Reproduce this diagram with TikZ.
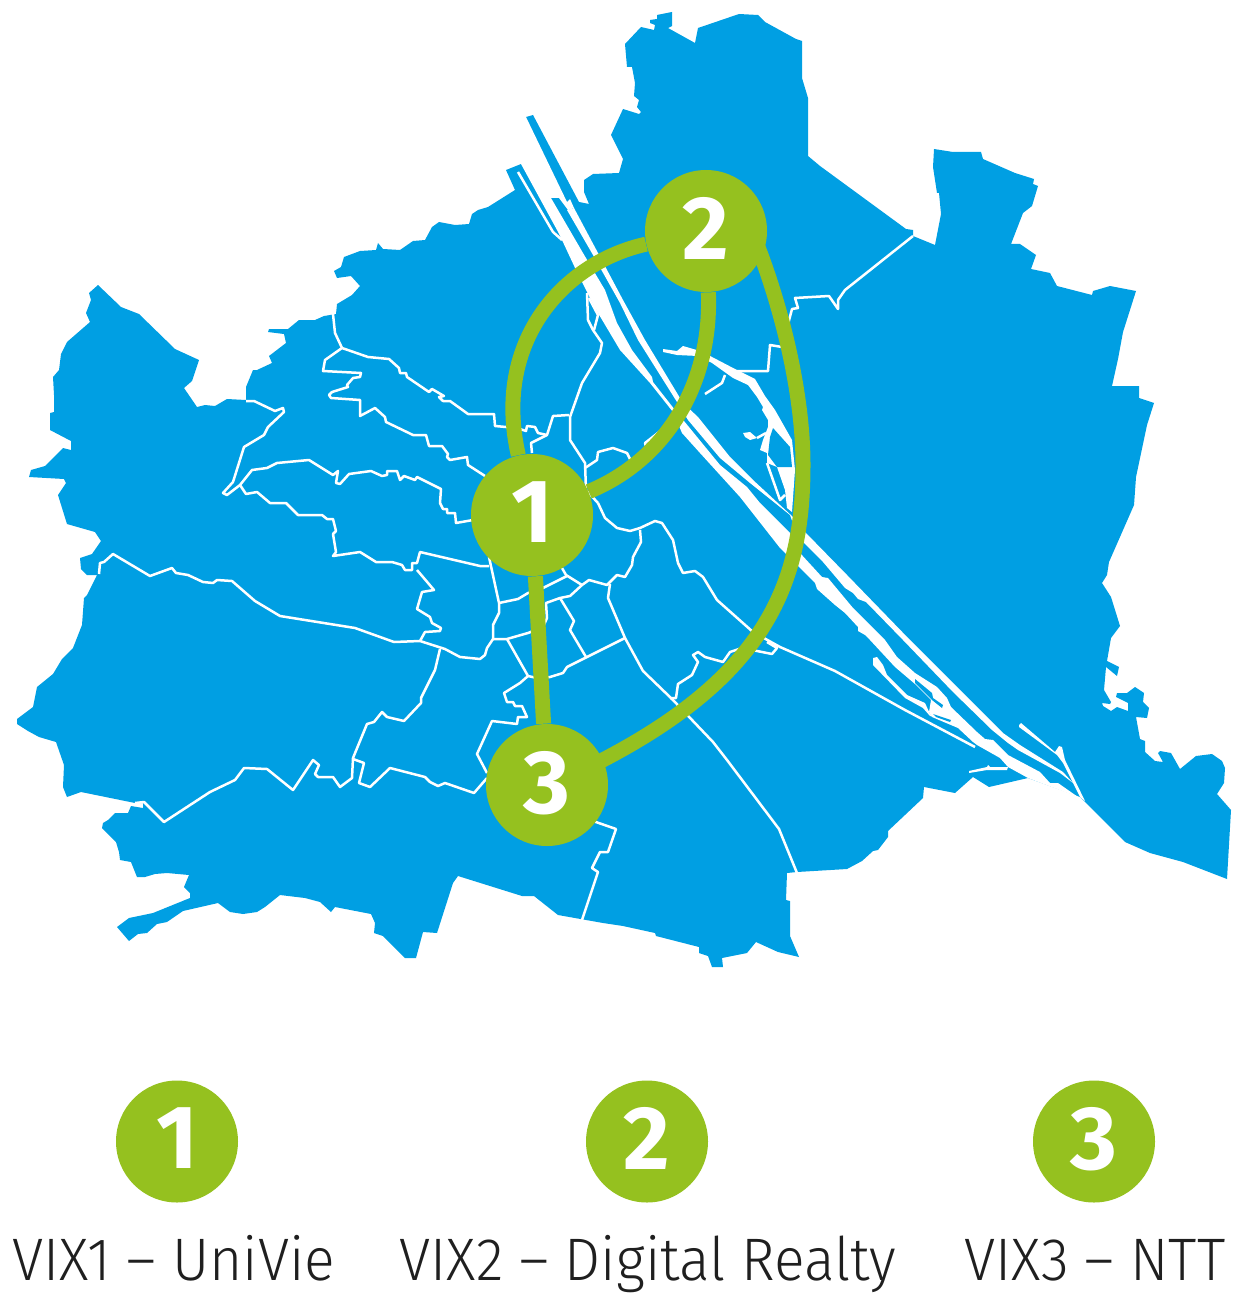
\documentclass[tikz,border=0pt]{standalone}
\usepackage{fontspec}
\setmainfont{Fira Sans}[UprightFont=* Light,BoldFont=* Bold]
\newfontfamily\capfont{Fira Sans Light}[FakeStretch=0.95]
\definecolor{mapblue}{HTML}{009FE3}
\definecolor{vixgreen}{HTML}{95C11F}
\tikzset{
  district/.style={fill=mapblue,draw=none},
  water/.style={fill=white,draw=none},
  border/.style={white,line width=1.25pt,line join=round},
  link/.style={vixgreen,line width=7.5pt},
  site/.style={circle,fill=vixgreen,text=white,minimum size=61pt,inner sep=0pt,text depth=3pt,font=\fontsize{45}{45}\bfseries},
  caption/.style={font=\fontsize{30}{30}\capfont,text=black!88,anchor=base,inner sep=0pt}
}
\newcommand\boundary[1]{\draw [border] plot coordinates {#1};}
\begin{document}
\begin{tikzpicture}[x=0.5pt,y=-0.5pt]
  \useasboundingbox (0,0) rectangle (1250,1305);
  \fill [district] plot coordinates {
    (98,285) (121,307) (139,314) (175,349) (199,360) (192,381) (184,388) (197,407) (205,405) (215,406)
    (227,399) (246,400) (246,387) (253,370) (257,370) (272,363) (269,356) (286,343) (284,334) (268,332)
    (269,329) (288,329) (299,320) (315,320) (324,316) (336,314) (337,304) (352,295) (360,286) (351,276)
    (337,278) (334,271) (341,267) (344,257) (360,251) (376,250) (378,243) (383,249) (400,250) (413,241)
    (425,240) (432,227) (439,222) (455,225) (469,224) (472,214) (478,210) (488,207) (515,190) (506,170)
    (521,164) (526,117) (533,115) (579,202) (589,204) (584,192) (584,180) (593,174) (619,173) (623,159)
    (611,135) (623,109) (639,114) (641,112) (637,107) (639,100) (634,96) (635,83) (632,67) (627,67)
    (625,44) (641,27) (654,30) (655,25) (650,23) (650,20) (657,19) (657,15) (672,12) (672,26) (668,28)
    (695,43) (698,28) (739,14) (758,15) (765,22) (796,39) (802,41) (802,78) (808,98) (808,156) (820,166)
    (906,229) (913,230) (913,236) (935,245) (941,214) (939,193) (937,193) (933,167) (934,149) (953,152)
    (981,152) (983,159) (1015,173) (1034,179) (1033,184) (1038,186) (1032,206) (1023,213) (1011,244)
    (1020,244) (1036,255) (1031,269) (1050,273) (1057,286) (1092,295) (1093,291) (1110,286) (1136,291)
    (1123,332) (1118,359) (1112,386) (1139,386) (1139,398) (1154,403) (1147,425) (1136,477) (1134,505)
    (1109,562) (1107,575) (1102,583) (1111,597) (1120,626) (1111,638) (1107,661) (1119,667) (1117,676)
    (1106,667) (1104,690) (1111,702) (1110,704) (1102,703) (1103,706) (1111,711) (1117,707) (1128,711)
    (1128,703) (1116,697) (1117,693) (1127,693) (1135,687) (1144,693) (1143,702) (1149,708) (1147,718)
    (1136,717) (1140,739) (1145,741) (1145,752) (1155,761) (1163,762) (1158,753) (1160,751) (1171,753)
    (1180,769) (1196,756) (1212,754) (1222,761) (1225,768) (1224,783) (1217,794) (1231,810) (1227,879)
    (1183,862) (1150,853) (1125,842) (1092,809) (1080,797) (1028,778) (989,787) (973,777) (955,793)
    (924,787) (923,798) (888,831) (888,837) (878,850) (873,851) (862,861) (847,869) (797,872) (787,873)
    (786,900) (790,901) (790,936) (799,957) (778,952) (756,942) (747,953) (722,958) (723,967) (712,967)
    (708,956) (699,953) (699,947) (656,936) (655,933) (623,926) (603,923) (558,915) (534,896) (522,896)
    (458,876) (453,883) (437,933) (423,932) (416,958) (405,958) (383,936) (374,933) (375,923) (371,914)
    (335,907) (331,912) (320,902) (305,898) (280,895) (265,907) (257,912) (243,914) (230,912) (218,903)
    (183,911) (167,922) (157,924) (147,933) (138,934) (129,941) (117,927) (129,918) (153,913) (190,898)
    (190,893) (184,887) (189,875) (167,873) (155,874) (145,877) (137,877) (131,862) (120,860) (119,852)
    (116,842) (102,828) (103,823) (108,820) (115,813) (128,813) (131,806) (143,808) (143,803) (135,803)
    (81,792) (67,797) (63,787) (64,765) (56,742) (39,737) (28,731) (17,724) (17,719) (33,707) (37,687)
    (53,674) (62,659) (73,648) (82,625) (84,598) (87,595) (97,575) (87,575) (81,569) (80,558) (92,554)
    (101,541) (95,532) (67,524) (58,495) (66,483) (64,479) (29,477) (31,470) (45,466) (63,448) (71,450)
    (71,441) (50,430) (50,413) (54,412) (54,395) (53,377) (59,370) (61,354) (67,342) (90,322) (86,313)
    (91,300) (89,293) (98,285) } -- cycle;
  \fill [water] plot coordinates {
    (521,164) (516,112) (526,117) (567,202) (570,199) (574,208) (568,210) (559,198) (551,198) (583,253) (605,290)
    (617,323) (632,350) (652,377) (653,382) (675,410) (702,443) (720,465) (747,487) (760,503) (790,533)
    (800,553) (822,577) (828,578) (853,608) (885,640) (897,657) (915,673) (937,687) (947,698) (951,707)
    (977,732) (985,739) (993,740) (1008,755) (1040,772) (1050,783) (1058,783) (1078,797) (1028,778)
    (1008,767) (1000,758) (977,745) (973,742) (958,728) (932,717) (929,712) (931,700) (915,684) (895,667)
    (870,640) (865,635) (858,631) (858,627) (845,613) (835,605) (817,589) (815,583) (780,548) (740,497)
    (700,453) (682,433) (673,412) (650,383) (620,350) (598,313) (590,298) (585,288) (576,270) (562,240)
    (557,230) } -- cycle;
  \fill [water] plot coordinates {
    (574,208) (598,253) (623,300) (645,340) (683,403) (698,417) (730,457) (753,480) (793,517) (805,532)
    (847,575) (910,640) (960,690) (1003,733) (1020,745) (1063,772) (1073,783) (1060,773) (1018,750) (1008,743)
    (992,730) (953,692) (903,640) (866,602) (858,599) (853,593) (845,588) (823,562) (798,537) (790,515)
    (750,483) (720,458) (688,420) (677,402) (638,340) (620,303) (593,255) (567,210) } -- cycle;
  \fill [water] plot coordinates {
    (873,658) (877,657) (883,665) (887,675) (907,695) (925,703) (930,714) (936,717) (930,716) (923,708)
    (905,698) (873,665) } -- cycle;
  \fill [water] plot coordinates {
    (969,771) (987,767) (988,765) (990,767) (1003,767) (1008,767) (1007,770) (987,770) (969,773) } -- cycle;
  \fill [water] plot coordinates {
    (1019,725) (1021,723) (1055,752) (1059,746) (1062,747) (1065,760) (1085,801) (1080,797) (1063,763)
    (1057,755) (1019,727) } -- cycle;
  \fill [water] plot coordinates {
    (663,349) (677,351) (683,346) (700,351) (712,357) (735,369) (755,379) (765,396) (775,410) (792,440)
    (795,470) (792,512) (787,508) (785,490) (777,467) (767,463) (767,453) (760,450) (763,440) (768,427)
    (768,420) (762,410) (763,407) (757,397) (748,385) (733,378) (712,363) (698,356) (677,355) (663,352) } -- cycle;
  \fill [water] plot coordinates {
    (743,433) (750,432) (757,438) (750,440) (745,437) } -- cycle;
  \fill [district] plot coordinates {
    (773,428) (790,447) (792,467) (777,467) (768,455) (770,437) } -- cycle;
  \fill [district] plot coordinates {
    (915,679) (932,693) (933,698) (943,705) (942,708) (932,700) (915,683) } -- cycle;
  \fill [district] plot coordinates {
    (933,714) (951,720) (950,722) (936,717) } -- cycle;
  \boundary{(518,172) (553,232) (562,240)}
  \boundary{(99,574) (100,563) (104,562) (113,554) (150,576) (172,568) (176,573) (188,575) (203,582) (213,583) (217,580) (232,581) (255,601) (280,616) (355,628) (394,642) (420,641) (445,649) (460,657) (480,659) (485,655) (487,648) (493,639)}
  \boundary{(493,639) (507,639) (528,633) (543,627) (547,618) (546,603) (560,598) (570,596) (582,585) (589,580) (607,585) (617,575) (625,577) (632,565) (633,557) (641,542) (640,530)}
  \boundary{(489,557) (499,603) (499,613) (493,625) (493,639)}
  \boundary{(499,603) (518,599) (528,593) (543,588) (567,576)}
  \boundary{(562,568) (566,575) (582,585)}
  \boundary{(560,598) (574,621) (570,630) (586,657)}
  \boundary{(610,584) (608,598) (625,638) (643,671) (672,699) (713,742) (727,760) (779,829) (797,873)}
  \boundary{(507,639) (528,676) (537,678) (550,677) (563,673) (567,667) (625,638)}
  \boundary{(528,676) (520,683) (504,693) (507,702) (513,702) (515,706) (522,706) (527,717) (518,717) (517,724) (492,721) (477,754) (487,773)}
  \boundary{(440,649) (435,670) (421,698) (421,703) (404,721) (387,717) (382,712) (374,722) (367,724) (353,758) (352,778) (340,787) (333,777) (318,777) (315,774) (319,765) (313,760) (293,790) (267,769) (244,768) (235,780) (210,792) (164,822) (144,802) (135,803)}
  \boundary{(353,759) (364,763) (359,783) (370,787) (390,768) (425,777) (430,782) (438,786) (445,783) (474,793) (487,778)}
  \boundary{(593,821) (616,829) (608,852) (600,852) (592,868) (598,872) (582,920)}
  \boundary{(598,503) (605,518) (617,528) (630,531) (640,528) (655,521) (662,523) (673,540) (678,563) (683,573) (695,571) (703,577) (717,600) (753,632) (780,647) (835,671) (905,710) (975,747)}
  \boundary{(767,642) (777,648) (772,654) (742,648) (730,652) (723,662) (705,657) (698,652) (693,655) (698,662) (692,675) (678,684) (676,698) (670,698)}
  \boundary{(587,293) (588,320) (593,330) (602,343) (600,353) (582,383) (570,417) (570,440) (585,463) (586,490) (598,503)}
  \boundary{(589,298) (598,315) (594,330)}
  \boundary{(585,468) (597,460) (598,452) (613,448) (627,453) (632,463)}
  \boundary{(672,422) (645,443) (647,450)}
  \boundary{(569,415) (553,416) (547,435) (531,443) (532,453)}
  \boundary{(333,314) (335,333) (342,348) (368,357) (389,359) (399,368) (400,373) (406,373) (407,377) (429,392) (432,389) (444,396) (439,397) (443,401) (450,401) (468,414) (494,414) (495,426) (517,428) (526,431) (527,426) (535,427) (538,433) (547,435)}
  \boundary{(342,348) (325,360) (323,371) (361,373) (360,377) (353,378) (347,385) (348,387) (332,392) (329,395) (331,398) (360,400) (360,416) (375,408) (385,417) (386,422) (413,435) (426,435) (429,446) (442,446) (448,454) (447,457) (450,460) (467,457) (468,465) (485,476)}
  \boundary{(246,401) (254,401) (275,411) (283,408) (284,412) (268,427) (264,435) (244,447) (233,482) (223,493) (227,495) (240,485) (252,470) (267,468) (277,463) (309,460) (333,475) (338,471) (336,483) (340,484) (349,474) (371,471) (382,476) (387,475) (387,471) (397,471) (400,480) (404,476) (415,480) (417,477) (441,489) (440,503) (443,509) (447,509) (447,513) (455,513) (456,523) (473,520)}
  \boundary{(240,485) (246,494) (257,492) (270,503) (286,503) (298,515) (322,515) (327,519) (333,519) (336,531) (333,534) (336,552) (333,556) (360,552) (376,562) (392,562) (402,565) (405,570) (412,570) (412,563) (417,563) (420,552) (480,566) (489,566)}
  \boundary{(417,570) (434,590) (422,592) (417,609) (430,617) (432,623) (441,628) (440,631) (425,632) (420,641)}
  \boundary{(913,236) (845,290) (838,300) (838,309) (829,296) (795,298) (798,308) (792,309) (782,347) (770,345) (768,371) (737,371)}
  \boundary{(725,375) (722,383) (705,394)}
  \boundary{(767,463) (780,500) (785,495)}
  \boundary{(757,438) (766,433)}
  \node [site] (n1) at (532,515) {1};
  \node [site] (n2) at (706,231) {2};
  \node [site] (n3) at (547,785) {3};
  \coordinate (tap) at (752,232);
  \coordinate (bend) at (803,465);
  \coordinate (drop) at (595,764);
  \draw [link] (n1) .. controls (492,340) and (565,262) .. (n2);
  \draw [link] (n1) .. controls (665,460) and (712,385) .. (n2);
  \draw [link] (n1) -- (n3);
  \draw [link] (tap) .. controls (780,300) and (803,390) .. (bend) .. controls (803,580) and (770,675) .. (drop);
  \node [site] (key1) at (177,1141.5) {1};
  \node [site] (key2) at (647,1141.5) {2};
  \node [site] (key3) at (1094,1141.5) {3};
  \node [caption] (name1) at (174,1280) {VIX1 – UniVie};
  \node [caption] (name2) at (648,1280) {VIX2 – Digital Realty};
  \node [caption] (name3) at (1095,1280) {VIX3 – NTT};
\end{tikzpicture}
\end{document}
